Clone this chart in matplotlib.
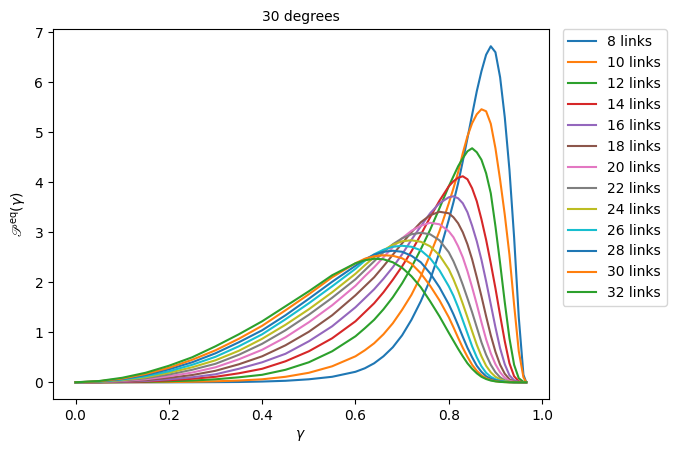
import matplotlib
matplotlib.use("Agg")
import matplotlib.pyplot as plt

gamma = [0.00, 0.05, 0.10, 0.15, 0.20, 0.25, 0.30, 0.35, 0.40, 0.45, 0.50, 0.55, 0.60,
         0.62, 0.64, 0.66, 0.68, 0.70, 0.72, 0.74, 0.76, 0.78, 0.80,
         0.81, 0.82, 0.83, 0.84, 0.85, 0.86, 0.87, 0.88, 0.89, 0.90,
         0.91, 0.92, 0.93, 0.94, 0.95, 0.96, 0.966]

links = [8, 10, 12, 14, 16, 18, 20, 22, 24, 26, 28, 30, 32]

p8 = [0, 0, 0, 0, 0, 0.001, 0.003, 0.006, 0.015, 0.03, 0.06, 0.11, 0.21,
      0.28, 0.38, 0.52, 0.70, 0.94, 1.25, 1.62, 2.05, 2.60, 3.25,
      3.60, 3.98, 4.42, 4.88, 5.35, 5.82, 6.22, 6.55, 6.72, 6.60,
      6.10, 5.30, 4.25, 2.90, 1.30, 0.15, 0.0]
p10 = [0, 0, 0.001, 0.002, 0.005, 0.01, 0.02, 0.035, 0.06, 0.11, 0.19, 0.32, 0.52,
       0.64, 0.78, 0.96, 1.18, 1.45, 1.75, 2.12, 2.55, 3.02, 3.58,
       3.88, 4.20, 4.58, 4.92, 5.18, 5.36, 5.46, 5.42, 5.17, 4.68,
       4.05, 3.35, 2.55, 1.55, 0.62, 0.10, 0.0]
p12 = [0, 0, 0.003, 0.008, 0.02, 0.035, 0.06, 0.10, 0.15, 0.25, 0.40, 0.62, 0.92,
       1.08, 1.25, 1.46, 1.70, 1.98, 2.30, 2.66, 3.05, 3.48, 3.92,
       4.12, 4.32, 4.48, 4.62, 4.68, 4.60, 4.45, 4.18, 3.78, 3.12,
       2.38, 1.60, 0.88, 0.35, 0.08, 0.01, 0.0]
p14 = [0, 0.001, 0.006, 0.016, 0.04, 0.07, 0.11, 0.18, 0.27, 0.42, 0.62, 0.88, 1.22,
       1.40, 1.58, 1.80, 2.05, 2.32, 2.62, 2.95, 3.30, 3.63, 3.92,
       4.02, 4.09, 4.12, 4.06, 3.88, 3.62, 3.26, 2.85, 2.38, 1.88,
       1.34, 0.82, 0.38, 0.12, 0.02, 0.0, 0.0]
p16 = [0, 0.002, 0.011, 0.027, 0.06, 0.10, 0.16, 0.27, 0.40, 0.57, 0.82, 1.12, 1.50,
       1.68, 1.86, 2.07, 2.30, 2.56, 2.85, 3.12, 3.38, 3.58, 3.70,
       3.72, 3.68, 3.58, 3.40, 3.13, 2.82, 2.45, 2.02, 1.56, 1.10,
       0.68, 0.36, 0.14, 0.04, 0.01, 0.0, 0.0]
p18 = [0, 0.004, 0.018, 0.042, 0.09, 0.145, 0.23, 0.36, 0.52, 0.74, 1.01, 1.34, 1.74,
       1.92, 2.10, 2.32, 2.55, 2.78, 3.00, 3.20, 3.34, 3.41, 3.38,
       3.30, 3.18, 3.00, 2.76, 2.46, 2.10, 1.72, 1.32, 0.94, 0.61,
       0.35, 0.17, 0.06, 0.015, 0.0, 0.0, 0.0]
p20 = [0, 0.006, 0.027, 0.06, 0.12, 0.195, 0.30, 0.46, 0.65, 0.90, 1.20, 1.54, 1.93,
       2.12, 2.30, 2.50, 2.70, 2.88, 3.03, 3.13, 3.19, 3.16, 3.02,
       2.90, 2.72, 2.50, 2.22, 1.90, 1.56, 1.20, 0.86, 0.58, 0.36,
       0.20, 0.09, 0.03, 0.01, 0.0, 0.0, 0.0]
p22 = [0, 0.008, 0.035, 0.08, 0.155, 0.25, 0.37, 0.55, 0.77, 1.04, 1.35, 1.69, 2.06,
       2.24, 2.42, 2.60, 2.76, 2.88, 2.96, 2.99, 2.96, 2.84, 2.60,
       2.42, 2.20, 1.95, 1.68, 1.40, 1.10, 0.80, 0.55, 0.35, 0.20,
       0.10, 0.04, 0.012, 0.0, 0.0, 0.0, 0.0]
p24 = [0, 0.011, 0.045, 0.10, 0.19, 0.30, 0.44, 0.63, 0.87, 1.15, 1.46, 1.80, 2.17,
       2.34, 2.50, 2.64, 2.75, 2.82, 2.84, 2.81, 2.72, 2.54, 2.26,
       2.06, 1.83, 1.57, 1.30, 1.02, 0.75, 0.52, 0.33, 0.20, 0.11,
       0.06, 0.025, 0.008, 0.0, 0.0, 0.0, 0.0]
p26 = [0, 0.014, 0.055, 0.12, 0.22, 0.35, 0.51, 0.72, 0.96, 1.26, 1.58, 1.92, 2.27,
       2.43, 2.56, 2.65, 2.71, 2.73, 2.71, 2.64, 2.48, 2.24, 1.92,
       1.73, 1.50, 1.24, 0.98, 0.72, 0.50, 0.32, 0.19, 0.11, 0.06,
       0.03, 0.012, 0.004, 0.0, 0.0, 0.0, 0.0]
p28 = [0, 0.017, 0.065, 0.145, 0.26, 0.40, 0.58, 0.80, 1.04, 1.34, 1.67, 2.01, 2.33,
       2.46, 2.55, 2.61, 2.63, 2.61, 2.53, 2.40, 2.18, 1.90, 1.56,
       1.36, 1.14, 0.91, 0.69, 0.50, 0.33, 0.21, 0.12, 0.07, 0.04,
       0.02, 0.008, 0.002, 0.0, 0.0, 0.0, 0.0]
p30 = [0, 0.02, 0.075, 0.165, 0.29, 0.45, 0.64, 0.87, 1.13, 1.44, 1.76, 2.10, 2.38,
       2.47, 2.52, 2.54, 2.53, 2.48, 2.37, 2.18, 1.93, 1.64, 1.30,
       1.10, 0.89, 0.69, 0.51, 0.35, 0.23, 0.14, 0.08, 0.045, 0.022,
       0.01, 0.004, 0.0, 0.0, 0.0, 0.0, 0.0]
p32 = [0, 0.025, 0.09, 0.19, 0.33, 0.50, 0.72, 0.96, 1.22, 1.52, 1.82, 2.14, 2.38,
       2.44, 2.47, 2.46, 2.40, 2.29, 2.12, 1.90, 1.62, 1.32, 0.99,
       0.83, 0.67, 0.52, 0.38, 0.27, 0.18, 0.11, 0.065, 0.035, 0.018,
       0.008, 0.003, 0.0, 0.0, 0.0, 0.0, 0.0]

series = [p8, p10, p12, p14, p16, p18, p20, p22, p24, p26, p28, p30, p32]

fig = plt.figure(figsize=(6.75, 4.53), dpi=100)
ax = fig.add_axes([0.0785, 0.119, 0.7345, 0.816])
for n, vals in zip(links, series):
    ax.plot(gamma, vals, label=f"{n} links")

ax.set_title("30 degrees", fontsize=10)
ax.set_xlabel(r"$\gamma$")
ax.set_ylabel(r"$\mathscr{P}^{\rm eq}(\gamma)$")
ax.legend(loc="upper left", bbox_to_anchor=(1.028, 1.0), borderaxespad=0.0)

fig.savefig("out.png", dpi=100)
